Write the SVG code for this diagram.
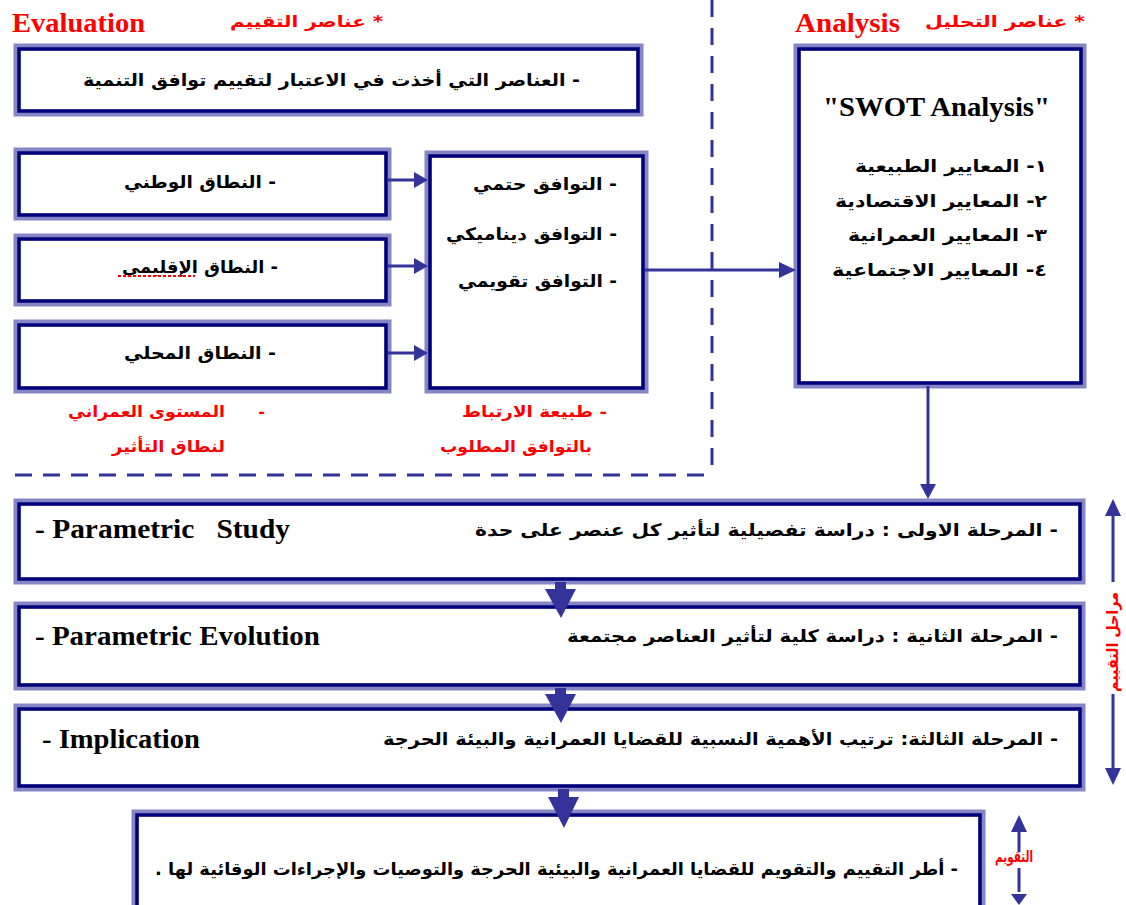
<svg xmlns="http://www.w3.org/2000/svg" width="1126" height="905" viewBox="0 0 1126 905">
<style>
.bo{fill:#fff;stroke:#8686c6;stroke-width:7}
.bi{fill:none;stroke:#00007a;stroke-width:3.5}
.ar{font-family:"DejaVu Sans",sans-serif;font-weight:bold;font-size:17px;fill:#000;direction:rtl}
.rd{font-family:"DejaVu Sans",sans-serif;font-weight:bold;font-size:16px;fill:#ff0000;direction:rtl}
.en{font-family:"Liberation Serif",serif;font-weight:bold;font-size:28px;fill:#000}
.ern{font-family:"Liberation Serif",serif;font-weight:bold;font-size:28px;fill:#ff0000}
.cn{stroke:#33339a;stroke-width:3;fill:none}
.ah{fill:#33339a}
.ds{stroke:#33339a;stroke-width:3;fill:none;stroke-dasharray:17 11}
</style>

<g id="headers">
<text class="ern" x="12" y="32" textLength="133" lengthAdjust="spacingAndGlyphs">Evaluation</text>
<text class="rd" x="383" y="27" font-size="19" textLength="153" lengthAdjust="spacingAndGlyphs">* عناصر التقييم</text>
<text class="ern" x="795" y="32" textLength="105" lengthAdjust="spacingAndGlyphs">Analysis</text>
<text class="rd" x="1085" y="27" font-size="19" textLength="160" lengthAdjust="spacingAndGlyphs">* عناصر التحليل</text>
</g>

<g id="separators">
<line class="ds" x1="712" y1="0" x2="712" y2="470"/>
<line class="ds" x1="15" y1="475" x2="712" y2="475"/>
</g>

<g id="n-top">
<rect class="bo" x="17" y="47" width="623" height="66"/>
<rect class="bi" x="19" y="49" width="619" height="62"/>
<text class="ar" x="580" y="86" textLength="497" lengthAdjust="spacingAndGlyphs">- العناصر التي أخذت في الاعتبار لتقييم توافق التنمية</text>
</g>

<g id="n-national">
<rect class="bo" x="17" y="151" width="371" height="66"/>
<rect class="bi" x="19" y="153" width="367" height="62"/>
<text class="ar" x="276" y="188" textLength="152" lengthAdjust="spacingAndGlyphs">- النطاق الوطني</text>
</g>
<g id="n-regional">
<rect class="bo" x="17" y="237" width="371" height="66"/>
<rect class="bi" x="19" y="239" width="367" height="62"/>
<text class="ar" x="278" y="273" textLength="156" lengthAdjust="spacingAndGlyphs">- النطاق الإقليمي</text>
<line x1="118" y1="276" x2="195" y2="276" stroke="#ff0000" stroke-width="2" stroke-dasharray="3 2"/>
</g>
<g id="n-local">
<rect class="bo" x="17" y="323" width="371" height="67"/>
<rect class="bi" x="19" y="325" width="367" height="63"/>
<text class="ar" x="276" y="359" textLength="152" lengthAdjust="spacingAndGlyphs">- النطاق المحلي</text>
</g>

<g id="n-nature">
<rect class="bo" x="428" y="154" width="217" height="236"/>
<rect class="bi" x="430" y="156" width="213" height="232"/>
<text class="ar" x="617" y="190" textLength="144" lengthAdjust="spacingAndGlyphs">- التوافق حتمي</text>
<text class="ar" x="617" y="240" textLength="171" lengthAdjust="spacingAndGlyphs">- التوافق ديناميكي</text>
<text class="ar" x="617" y="287" textLength="159" lengthAdjust="spacingAndGlyphs">- التوافق تقويمي</text>
</g>

<g id="n-swot">
<rect class="bo" x="797" y="47" width="286" height="338"/>
<rect class="bi" x="799" y="49" width="282" height="334"/>
<text class="en" x="823" y="116" font-weight="normal" textLength="227" lengthAdjust="spacingAndGlyphs">"SWOT Analysis"</text>
<text class="ar" x="1047" y="172" textLength="192" lengthAdjust="spacingAndGlyphs">١-  المعايير الطبيعية</text>
<text class="ar" x="1047" y="207" textLength="212" lengthAdjust="spacingAndGlyphs">٢-  المعايير الاقتصادية</text>
<text class="ar" x="1047" y="241" textLength="199" lengthAdjust="spacingAndGlyphs">٣-  المعايير العمرانية</text>
<text class="ar" x="1047" y="276" textLength="215" lengthAdjust="spacingAndGlyphs">٤-  المعايير الاجتماعية</text>
</g>

<g id="labels-red">
<text class="rd" x="265" y="417">-</text>
<text class="rd" x="225" y="417" textLength="157" lengthAdjust="spacingAndGlyphs">المستوى العمراني</text>
<text class="rd" x="225" y="452" textLength="113" lengthAdjust="spacingAndGlyphs">لنطاق التأثير</text>
<text class="rd" x="607" y="417" textLength="145" lengthAdjust="spacingAndGlyphs">- طبيعة الارتباط</text>
<text class="rd" x="592" y="452" textLength="152" lengthAdjust="spacingAndGlyphs">بالتوافق المطلوب</text>
</g>

<g id="n-stage1">
<rect class="bo" x="17" y="502" width="1065" height="79"/>
<rect class="bi" x="19" y="504" width="1061" height="75"/>
<text class="en" x="35" y="538" textLength="255" lengthAdjust="spacingAndGlyphs" xml:space="preserve">- Parametric   Study</text>
<text class="ar" x="1058" y="536" textLength="583" lengthAdjust="spacingAndGlyphs">- المرحلة الاولى : دراسة تفصيلية لتأثير كل عنصر على حدة</text>
</g>
<g id="n-stage2">
<rect class="bo" x="17" y="605" width="1065" height="82"/>
<rect class="bi" x="19" y="607" width="1061" height="78"/>
<text class="en" x="35" y="645" textLength="285" lengthAdjust="spacingAndGlyphs">- Parametric Evolution</text>
<text class="ar" x="1058" y="642" textLength="491" lengthAdjust="spacingAndGlyphs">- المرحلة الثانية : دراسة كلية لتأثير العناصر مجتمعة</text>
</g>
<g id="n-stage3">
<rect class="bo" x="17" y="707" width="1065" height="81"/>
<rect class="bi" x="19" y="709" width="1061" height="77"/>
<text class="en" x="42" y="748" textLength="158" lengthAdjust="spacingAndGlyphs">- Implication</text>
<text class="ar" x="1058" y="745" textLength="675" lengthAdjust="spacingAndGlyphs">- المرحلة الثالثة: ترتيب الأهمية النسبية للقضايا العمرانية والبيئة الحرجة</text>
</g>
<g id="n-final">
<rect class="bo" x="135" y="813" width="847" height="100"/>
<rect class="bi" x="137" y="815" width="843" height="96"/>
<text class="ar" x="958" y="875" textLength="803" lengthAdjust="spacingAndGlyphs">- أطر التقييم والتقويم للقضايا العمرانية والبيئية الحرجة والتوصيات والإجراءات الوقائية لها .</text>
</g>

<g id="connectors">
<line class="cn" x1="388" y1="180" x2="418" y2="180"/>
<polygon class="ah" points="414,172 428,180 414,188"/>
<line class="cn" x1="388" y1="266" x2="418" y2="266"/>
<polygon class="ah" points="414,258 428,266 414,274"/>
<line class="cn" x1="388" y1="353" x2="418" y2="353"/>
<polygon class="ah" points="414,345 428,353 414,361"/>
<line class="cn" x1="645" y1="270" x2="785" y2="270"/>
<polygon class="ah" points="779,262 796,270 779,278"/>
<line class="cn" x1="928" y1="386" x2="928" y2="488"/>
<polygon class="ah" points="920,484 928,499 936,484"/>
<rect class="ah" x="555" y="582" width="11" height="10"/>
<polygon class="ah" points="545,589 576,589 561,618"/>
<rect class="ah" x="555" y="688" width="11" height="10"/>
<polygon class="ah" points="545,694 576,694 561,723"/>
<rect class="ah" x="558" y="789" width="11" height="12"/>
<polygon class="ah" points="548,797 579,797 564,828"/>
<line class="cn" x1="1113" y1="510" x2="1113" y2="582" stroke-width="2"/>
<polygon class="ah" points="1105,516 1113,499 1121,516"/>
<line class="cn" x1="1113" y1="694" x2="1113" y2="770" stroke-width="2"/>
<polygon class="ah" points="1105,768 1113,785 1121,768"/>
<line class="cn" x1="1019" y1="830" x2="1019" y2="852" stroke-width="2"/>
<polygon class="ah" points="1011,832 1019,815 1027,832"/>
<line class="cn" x1="1019" y1="868" x2="1019" y2="892" stroke-width="2"/>
<polygon class="ah" points="1011,894 1019,905 1027,894"/>
</g>
<g id="range-labels">
<text class="rd" transform="translate(1118,592) rotate(-90)" x="0" y="0" font-size="15" style="direction:ltr" text-anchor="end" textLength="100" lengthAdjust="spacingAndGlyphs">مراحل التقييم</text>
<text class="rd" x="1033" y="862" font-size="9" textLength="38" lengthAdjust="spacingAndGlyphs">التقويم</text>
</g>
</svg>
